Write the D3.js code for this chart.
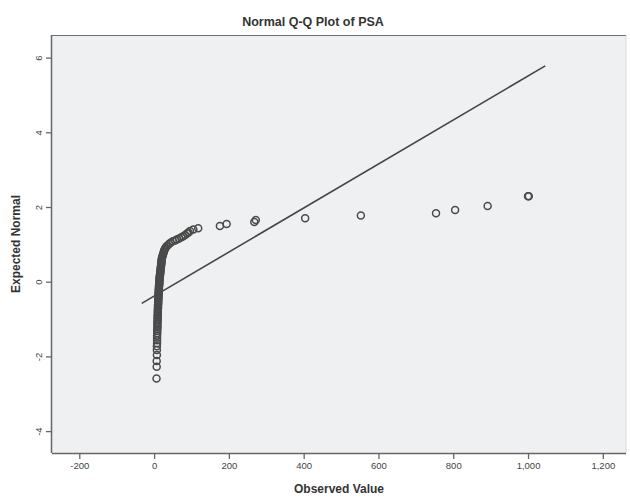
<!DOCTYPE html>
<html>
<head>
<meta charset="utf-8">
<script src="https://cdn.jsdelivr.net/npm/d3@7"></script>
<style>
  html, body { margin: 0; padding: 0; background: #ffffff; }
  svg { display: block; }
  text { font-family: "Liberation Sans", Arial, sans-serif; }
</style>
</head>
<body>
<svg id="chart" width="630" height="499"></svg>
<script>
// ---- data ----
const title = "Normal Q-Q Plot of PSA";
const xLabel = "Observed Value";
const yLabel = "Expected Normal";
const xTicks = [-200, 0, 200, 400, 600, 800, 1000, 1200];
const yTicks = [-4, -2, 0, 2, 4, 6];

// observed PSA values
const observed = [
  6.5, 7, 7, 7.5, 7.5, 7.5, 8, 8, 8, 8, 8.5, 8.5, 8.5, 9, 9, 9, 9, 9.5, 9.5, 9.5,
  9.5, 10, 10, 10, 10, 10.5, 10.5, 10.5, 10.5, 11, 11, 11, 11, 11.5, 11.5, 11.5, 12, 12, 12, 12.5,
  12.5, 12.5, 13, 13, 13, 13.5, 13.5, 14, 14, 14, 14.5, 14.5, 15, 15, 15.5, 16, 16, 16.5, 17, 17,
  17.5, 18, 18, 18.5, 19, 19, 19.5, 20, 20, 20.5, 21, 22, 23, 24, 25, 26, 27, 29, 30, 33,
  36, 40, 44, 50, 56, 61, 67, 73, 78, 83, 88, 92, 96, 105, 118, 176, 194, 268, 272, 404,
  553, 754, 805, 892, 1000, 1002
];
// expected normal values
const expected = [
  -2.59, -2.28, -2.12, -1.96, -1.83, -1.73, -1.65, -1.57, -1.50, -1.44, -1.38, -1.32, -1.27, -1.22, -1.17, -1.12, -1.08, -1.03, -0.99, -0.95,
  -0.91, -0.87, -0.83, -0.80, -0.76, -0.72, -0.69, -0.66, -0.62, -0.59, -0.56, -0.53, -0.49, -0.46, -0.43, -0.40, -0.37, -0.34, -0.31, -0.28,
  -0.25, -0.22, -0.19, -0.16, -0.13, -0.10, -0.08, -0.05, -0.02, 0.01, 0.04, 0.07, 0.10, 0.13, 0.16, 0.18, 0.21, 0.24, 0.27, 0.30,
  0.33, 0.36, 0.39, 0.42, 0.45, 0.48, 0.51, 0.54, 0.57, 0.60, 0.63, 0.67, 0.70, 0.73, 0.77, 0.80, 0.84, 0.87, 0.90, 0.94,
  0.97, 1.01, 1.04, 1.08, 1.10, 1.13, 1.16, 1.19, 1.22, 1.25, 1.29, 1.32, 1.36, 1.40, 1.43, 1.49, 1.545, 1.60, 1.65, 1.70,
  1.77, 1.83, 1.92, 2.03, 2.29, 2.29
];
// reference line endpoints (observed, expected)
const refX = [-33, 1046];
const refY = [-0.58, 5.78];

// ---- layout ----
const svg = d3.select("#chart");
const plot = { left: 52, right: 626, top: 35, bottom: 453 };

const x = d3.scaleLinear().domain([-273, 1262]).range([plot.left, plot.right]);
const y = d3.scaleLinear().domain([-4.586, 6.605]).range([plot.bottom, plot.top]);

const fmtX = v => d3.format(",")(v).replace("\u2212", "-");
const fmtY = v => String(v);

// plot background
svg.append("rect")
  .attr("x", plot.left).attr("y", plot.top)
  .attr("width", plot.right - plot.left).attr("height", plot.bottom - plot.top)
  .attr("fill", "#eef0f2");

// right edge (light)
svg.append("line")
  .attr("x1", plot.right).attr("x2", plot.right)
  .attr("y1", plot.top).attr("y2", plot.bottom)
  .attr("stroke", "#d8dadc").attr("stroke-width", 1);

// top border
svg.append("line")
  .attr("x1", plot.left).attr("x2", plot.right)
  .attr("y1", plot.top + 0.5).attr("y2", plot.top + 0.5)
  .attr("stroke", "#707070").attr("stroke-width", 1.2);

// x axis
const xAxis = svg.append("g")
  .attr("transform", `translate(0,${plot.bottom})`)
  .call(d3.axisBottom(x).tickValues(xTicks).tickSize(6).tickSizeOuter(0)
        .tickFormat(fmtX));
xAxis.select(".domain").attr("stroke", "#666").attr("stroke-width", 1.5)
  .attr("d", `M${plot.left},0.5H${plot.right}`);
xAxis.selectAll(".tick line").attr("stroke", "#666").attr("stroke-width", 1.3);
xAxis.selectAll(".tick text")
  .attr("y", 9).attr("font-size", 9.5).attr("fill", "#444")
  .attr("font-family", "Liberation Sans, Arial, sans-serif");

// y axis
const yAxis = svg.append("g")
  .attr("transform", `translate(${plot.left},0)`)
  .call(d3.axisLeft(y).tickValues(yTicks).tickSize(6).tickSizeOuter(0)
        .tickFormat(fmtY));
yAxis.select(".domain").attr("stroke", "#666").attr("stroke-width", 1.5)
  .attr("d", `M-0.5,${plot.top}V${plot.bottom}`);
yAxis.selectAll(".tick line").attr("stroke", "#666").attr("stroke-width", 1.3);
yAxis.selectAll(".tick text")
  .attr("font-size", 9.5).attr("fill", "#444")
  .attr("font-family", "Liberation Sans, Arial, sans-serif")
  .attr("x", null).attr("dy", null)
  .attr("text-anchor", "middle")
  .attr("transform", "translate(-10,0) rotate(-90)")
  .attr("y", 0);

// reference line
svg.append("line")
  .attr("x1", x(refX[0])).attr("y1", y(refY[0]))
  .attr("x2", x(refX[1])).attr("y2", y(refY[1]))
  .attr("stroke", "#454545").attr("stroke-width", 1.6);

// points
const pts = observed.map((v, i) => ({ o: v, e: expected[i] }));
svg.append("g").selectAll("circle")
  .data(pts).join("circle")
  .attr("cx", d => x(d.o)).attr("cy", d => y(d.e))
  .attr("r", 3.5)
  .attr("fill", "none")
  .attr("stroke", "#4a4a4a")
  .attr("stroke-width", 1.5);

// title
svg.append("text")
  .attr("x", 313).attr("y", 26)
  .attr("text-anchor", "middle")
  .attr("font-size", 12.5).attr("font-weight", "bold").attr("fill", "#333")
  .text(title);

// x label
svg.append("text")
  .attr("x", (plot.left + plot.right) / 2).attr("y", 493)
  .attr("text-anchor", "middle")
  .attr("font-size", 12).attr("font-weight", "bold").attr("fill", "#333")
  .text(xLabel);

// y label
svg.append("text")
  .attr("transform", `translate(20,${(plot.top + plot.bottom) / 2}) rotate(-90)`)
  .attr("text-anchor", "middle")
  .attr("font-size", 12).attr("font-weight", "bold").attr("fill", "#333")
  .text(yLabel);
</script>
</body>
</html>
